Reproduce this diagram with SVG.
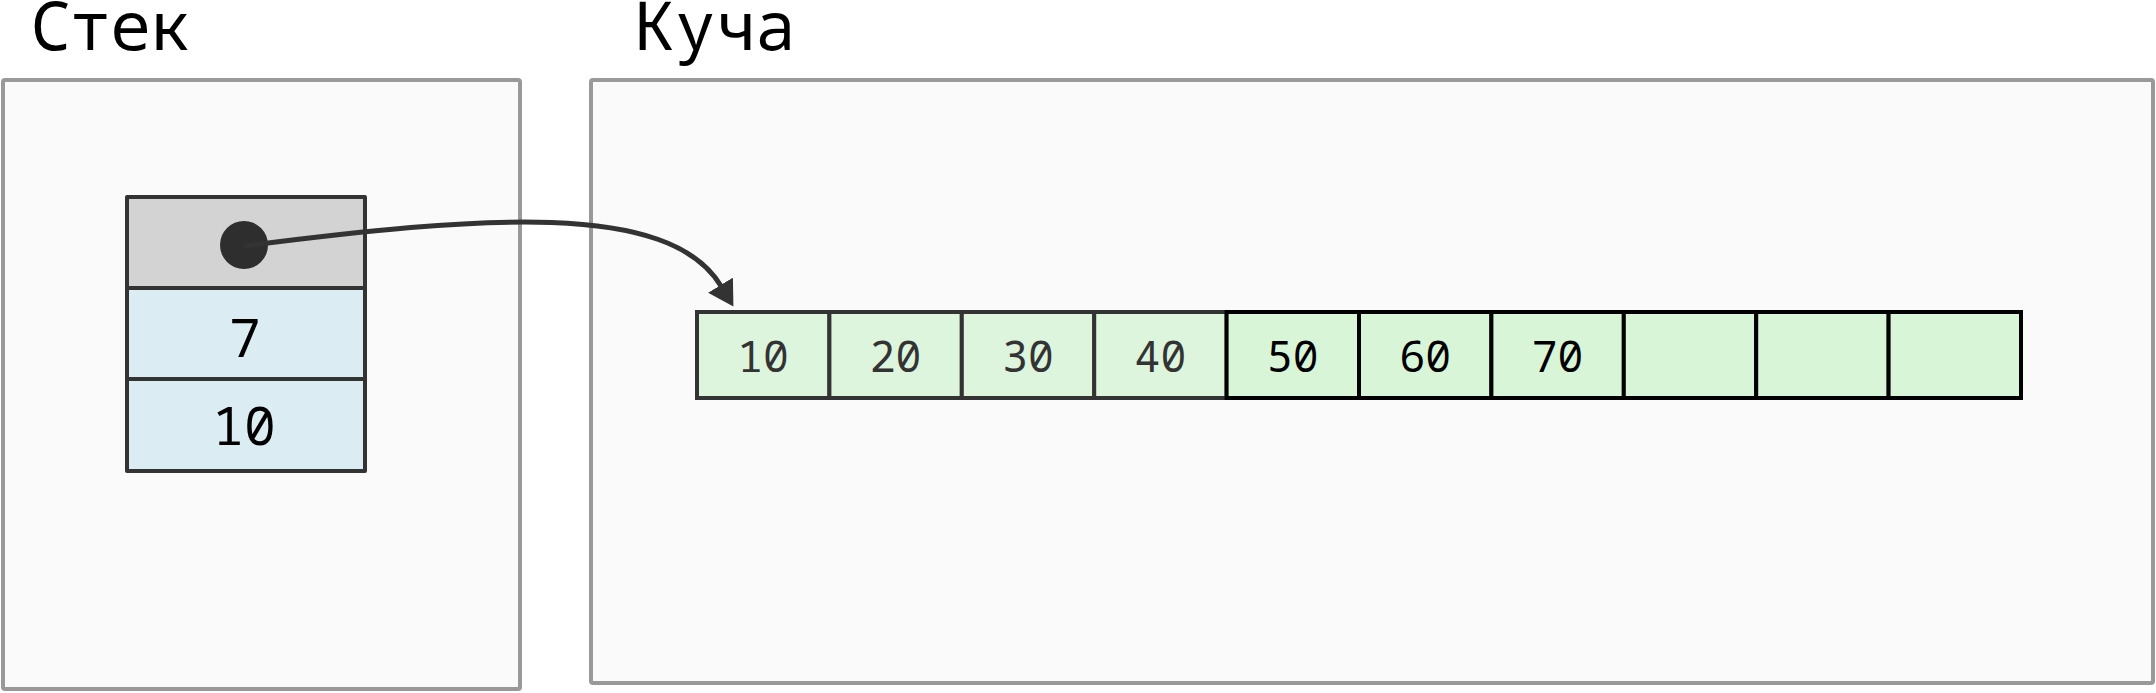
<svg xmlns="http://www.w3.org/2000/svg" width="2156" height="693" viewBox="0 0 2156 693">
<defs>
<style>
.title{font-family:"Noto Sans Mono","DejaVu Sans Mono",monospace;font-size:67px;fill:#000}
.area{fill:#fafafa;stroke:#999;stroke-width:4}
.cell{stroke:#333;stroke-width:4;stroke-linejoin:round}
.sval{font-family:"Noto Sans Mono","DejaVu Sans Mono",monospace;font-size:53px;fill:#000;text-anchor:middle}
.hval{font-family:"Noto Sans Mono","DejaVu Sans Mono",monospace;font-size:43px;text-anchor:middle}
.old{fill:#ddf4dd;stroke:#333;stroke-width:4}
.new{fill:#d8f5d8;stroke:#000;stroke-width:4}
.conn{fill:none;stroke:#333;stroke-width:5}
</style>
<marker id="arrow" markerUnits="userSpaceOnUse" markerWidth="26" markerHeight="30" viewBox="0 0 26 30" refX="1" refY="15" orient="auto">
<path d="M0,0.5 L25,15 L0,29.5 z" fill="#333"/>
</marker>
</defs>
<g id="stack">
<rect class="area" x="3" y="80" width="517" height="609" rx="2"/>
<text class="title" x="30" y="50">Стек</text>
</g>
<g id="heap">
<rect class="area" x="591" y="80" width="1562" height="603" rx="2"/>
<text class="title" x="635" y="50">Куча</text>
</g>
<g id="stack-cells">
<g id="ptr"><rect class="cell" x="127" y="197" width="238" height="91" fill="#d3d3d3"/><circle cx="244" cy="245" r="24" fill="#2e2e2e"/></g>
<g id="s7"><rect class="cell" x="127" y="288" width="238" height="91" fill="#dbecf3"/><text class="sval" x="245" y="357">7</text></g>
<g id="s10"><rect class="cell" x="127" y="379" width="238" height="92" fill="#dbecf3"/><text class="sval" x="244" y="445">10</text></g>
</g>
<g id="array">
<g id="c1"><rect class="old" x="697" y="312" width="132.4" height="86"/><text class="hval" x="763" y="372" fill="#333">10</text></g>
<g id="c2"><rect class="old" x="829.4" y="312" width="132.4" height="86"/><text class="hval" x="895.6" y="372" fill="#333">20</text></g>
<g id="c3"><rect class="old" x="961.8" y="312" width="132.4" height="86"/><text class="hval" x="1028" y="372" fill="#333">30</text></g>
<g id="c4"><rect class="old" x="1094.2" y="312" width="132.4" height="86"/><text class="hval" x="1160.4" y="372" fill="#333">40</text></g>
<g id="c5"><rect class="new" x="1226.6" y="312" width="132.4" height="86"/><text class="hval" x="1292.8" y="372" fill="#000">50</text></g>
<g id="c6"><rect class="new" x="1359" y="312" width="132.4" height="86"/><text class="hval" x="1425.2" y="372" fill="#000">60</text></g>
<g id="c7"><rect class="new" x="1491.4" y="312" width="132.4" height="86"/><text class="hval" x="1557.6" y="372" fill="#000">70</text></g>
<g id="c8"><rect class="new" x="1623.8" y="312" width="132.4" height="86"/></g>
<g id="c9"><rect class="new" x="1756.2" y="312" width="132.4" height="86"/></g>
<g id="c10"><rect class="new" x="1888.6" y="312" width="132.4" height="86"/></g>
</g>
<g id="connectors">
<path class="conn" d="M244,246 C480,216 669,200 721,286" marker-end="url(#arrow)"/>
</g>
</svg>
